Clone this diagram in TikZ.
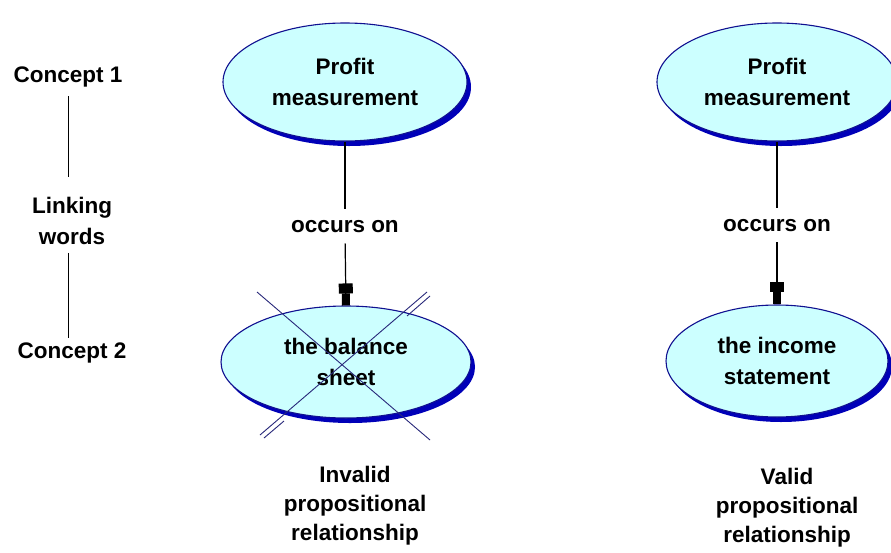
\documentclass[tikz,border=0pt]{standalone}
\usepackage{fontspec}
\setmainfont{Liberation Sans}
\usetikzlibrary{calc,arrows.meta,shapes.geometric,shadows}
\definecolor{conceptfill}{HTML}{CCFFFF}
\definecolor{conceptline}{HTML}{101090}
\definecolor{conceptshade}{HTML}{0000B8}
\definecolor{crossline}{HTML}{28287A}
\tikzset{
  txt/.style={font=\fontsize{22.5}{31}\selectfont\bfseries, align=center, inner sep=0pt},
  concept/.style={txt, ellipse, draw=conceptline, line width=1.1pt, fill=conceptfill,
    drop shadow={shadow xshift=4pt, shadow yshift=-5pt, fill=conceptshade, opacity=1}},
  link/.style={line width=1.2pt, black},
  linkarrow/.style={link, -{Rectangle[length=10pt,width=14pt]Rectangle[length=12pt,width=8pt]}},
  guide/.style={line width=1pt, black},
  cross/.style={line width=0.9pt, crossline}
}

\begin{document}
\begin{tikzpicture}[x=1pt,y=-1pt]
			%%%%% START %%%%%
			\useasboundingbox[fill=white] (0,0) rectangle (891,552);
			
			% legend on the left
			\node[txt] (c1) at (68, 77) {Concept 1};
			\node[txt] (lw) at (72, 221) {Linking\\words};
			\node[txt] (c2) at (72, 353) {Concept 2};
			\draw[guide, shorten <=9pt, shorten >=20pt] (c1.south) -- (c1.south |- lw.north);
			\draw[guide, shorten <=8pt, shorten >=5pt] (c1.south |- lw.south) -- (c1.south |- c2.north);
			
			% invalid proposition
			\node[concept, minimum width=244pt, minimum height=118pt] (pm1) at (345, 82) {Profit\\measurement};
			\node[txt] (oc1) at (345, 227) {occurs on};
			\node[concept, minimum width=250pt, minimum height=112pt] (bs) at (346, 362) {the balance\\sheet};
			\draw[link, shorten >=12pt] (pm1.south) -- (oc1.north);
			\draw[linkarrow, shorten <=10pt] (oc1.south) -- (bs.north);
			
			\draw[cross] ($(bs)+(-89,-70)$) -- ($(bs)+(84,78)$);
			\draw[cross] ($(bs)+(81,-70)$) -- ($(bs)+(-86,73)$);
			\draw[cross] ($(bs)+(84,-66)$) -- ($(bs)+(61,-46)$);
			\draw[cross] ($(bs)+(-82,76)$) -- ($(bs)+(-62,59)$);
			
			\node[txt, font=\fontsize{22.5}{29}\selectfont\bfseries] (inv) at (355, 506) {Invalid\\propositional\\relationship};
			
			% valid proposition
			\node[concept, minimum width=240pt, minimum height=118pt] (pm2) at (777, 82) {Profit\\measurement};
			\node[txt] (oc2) at (777, 226) {occurs on};
			\node[concept, minimum width=222pt, minimum height=112pt] (is) at (777, 361) {the income\\statement};
			\draw[link, shorten >=12pt] (pm2.south) -- (oc2.north);
			\draw[linkarrow, shorten <=10pt] (oc2.south) -- (is.north);
			
			\node[txt, font=\fontsize{22.5}{29}\selectfont\bfseries] (val) at (787, 508) {Valid\\propositional\\relationship};
			%%%%% END %%%%%
\end{tikzpicture}
\end{document}
